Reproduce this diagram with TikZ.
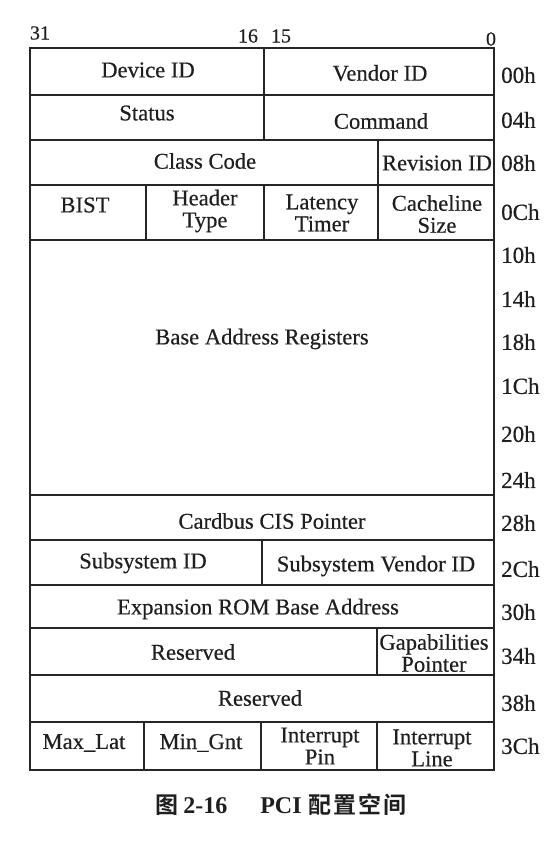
\documentclass[tikz,border=0pt]{standalone}
\usepackage{fontspec}
\setmainfont{Liberation Serif}[FakeBold=0.4]
\newfontfamily\capfont{Liberation Serif Bold}
\newfontfamily\cjkb{Noto Sans CJK SC Bold}
\begin{document}
\begin{tikzpicture}[x=1pt,y=-1pt,
  grid/.style={line width=1.4pt, draw=black!85},
  fld/.style={font=\fontsize{22.6}{22}\selectfont, align=center, inner sep=0pt, text=black!88},
  off/.style={font=\fontsize{23}{22}\selectfont, anchor=west, inner sep=0pt, text=black!88},
  bitlbl/.style={font=\fontsize{20}{20}\selectfont, inner sep=0pt, text=black!88},
  captxt/.style={font=\capfont\fontsize{24}{24}\selectfont, inner sep=0pt, text=black!88}]
\useasboundingbox (0,0) rectangle (544,843);
\fill[white] (0,0) rectangle (544,843);
% grid
\draw[grid] (30,48) rectangle (494,770);
\foreach \y in {95,140,185,240,495,540,585,628,675,722}
  \draw[grid] (30,\y) -- (494,\y);
\draw[grid] (264,48) -- (264,140);
\draw[grid] (378,140) -- (378,240);
\draw[grid] (146,185) -- (146,240);
\draw[grid] (264,185) -- (264,240);
\draw[grid] (262,540) -- (262,585);
\draw[grid] (377,628) -- (377,675);
\draw[grid] (144,722) -- (144,770);
\draw[grid] (261,722) -- (261,770);
\draw[grid] (377,722) -- (377,770);
% bit numbers
\node[bitlbl] (b31) at (40,33) {31};
\node[bitlbl] (b16) at (248,36) {16};
\node[bitlbl] (b15) at (281,36) {15};
\node[bitlbl] (b0) at (491,39) {0};
% fields
\node[fld] (devid) at (148,70) {Device ID};
\node[fld] (venid) at (380,73) {Vendor ID};
\node[fld] (status) at (147,113) {Status};
\node[fld] (cmd) at (381,121) {Command};
\node[fld] (class) at (205,161) {Class Code};
\node[fld] (rev) at (437,163) {Revision ID};
\node[fld] (bist) at (85,205) {BIST};
\node[fld] (htype) at (205,211) {Header\\Type};
\node[fld] (lat) at (322,213) {Latency\\Timer};
\node[fld] (cache) at (437,214) {Cacheline\\Size};
\node[fld] (bar) at (262,339) {Base Address Registers};
\node[fld] (cis) at (272,521) {Cardbus CIS Pointer};
\node[fld] (subid) at (143,563) {Subsystem ID};
\node[fld] (subvid) at (376,566) {Subsystem Vendor ID};
\node[fld] (rom) at (258,609) {Expansion ROM Base Address};
\node[fld] (res1) at (193,652) {Reserved};
\node[fld] (capp) at (434,653) {Gapabilities\\Pointer};
\node[fld] (res2) at (260,698) {Reserved};
\node[fld] (maxlat) at (84,743) {Max\_Lat};
\node[fld] (mingnt) at (201,743) {Min\_Gnt};
\node[fld] (ipin) at (320,746) {Interrupt\\Pin};
\node[fld] (iline) at (432,748) {Interrupt\\Line};
% offsets
\node[off] (o00) at (501,75) {00h};
\node[off] (o04) at (501,120) {04h};
\node[off] (o08) at (501,163) {08h};
\node[off] (o0C) at (501,212) {0Ch};
\node[off] (o10) at (501,255) {10h};
\node[off] (o14) at (501,299) {14h};
\node[off] (o18) at (501,342) {18h};
\node[off] (o1C) at (501,386) {1Ch};
\node[off] (o20) at (501,434) {20h};
\node[off] (o24) at (501,480) {24h};
\node[off] (o28) at (501,523) {28h};
\node[off] (o2C) at (501,569) {2Ch};
\node[off] (o30) at (501,612) {30h};
\node[off] (o34) at (501,656) {34h};
\node[off] (o38) at (501,703) {38h};
\node[off] (o3C) at (501,746) {3Ch};
% caption
\node[captxt] (caption) at (281,805) {{\cjkb\fontsize{23}{23}\selectfont 图}\hspace{5pt}2-16\hspace{33pt}PCI\hspace{7pt}{\cjkb\fontsize{23}{23}\selectfont 配\hspace{2pt}置\hspace{2pt}空\hspace{2pt}间}};
\end{tikzpicture}
\end{document}
